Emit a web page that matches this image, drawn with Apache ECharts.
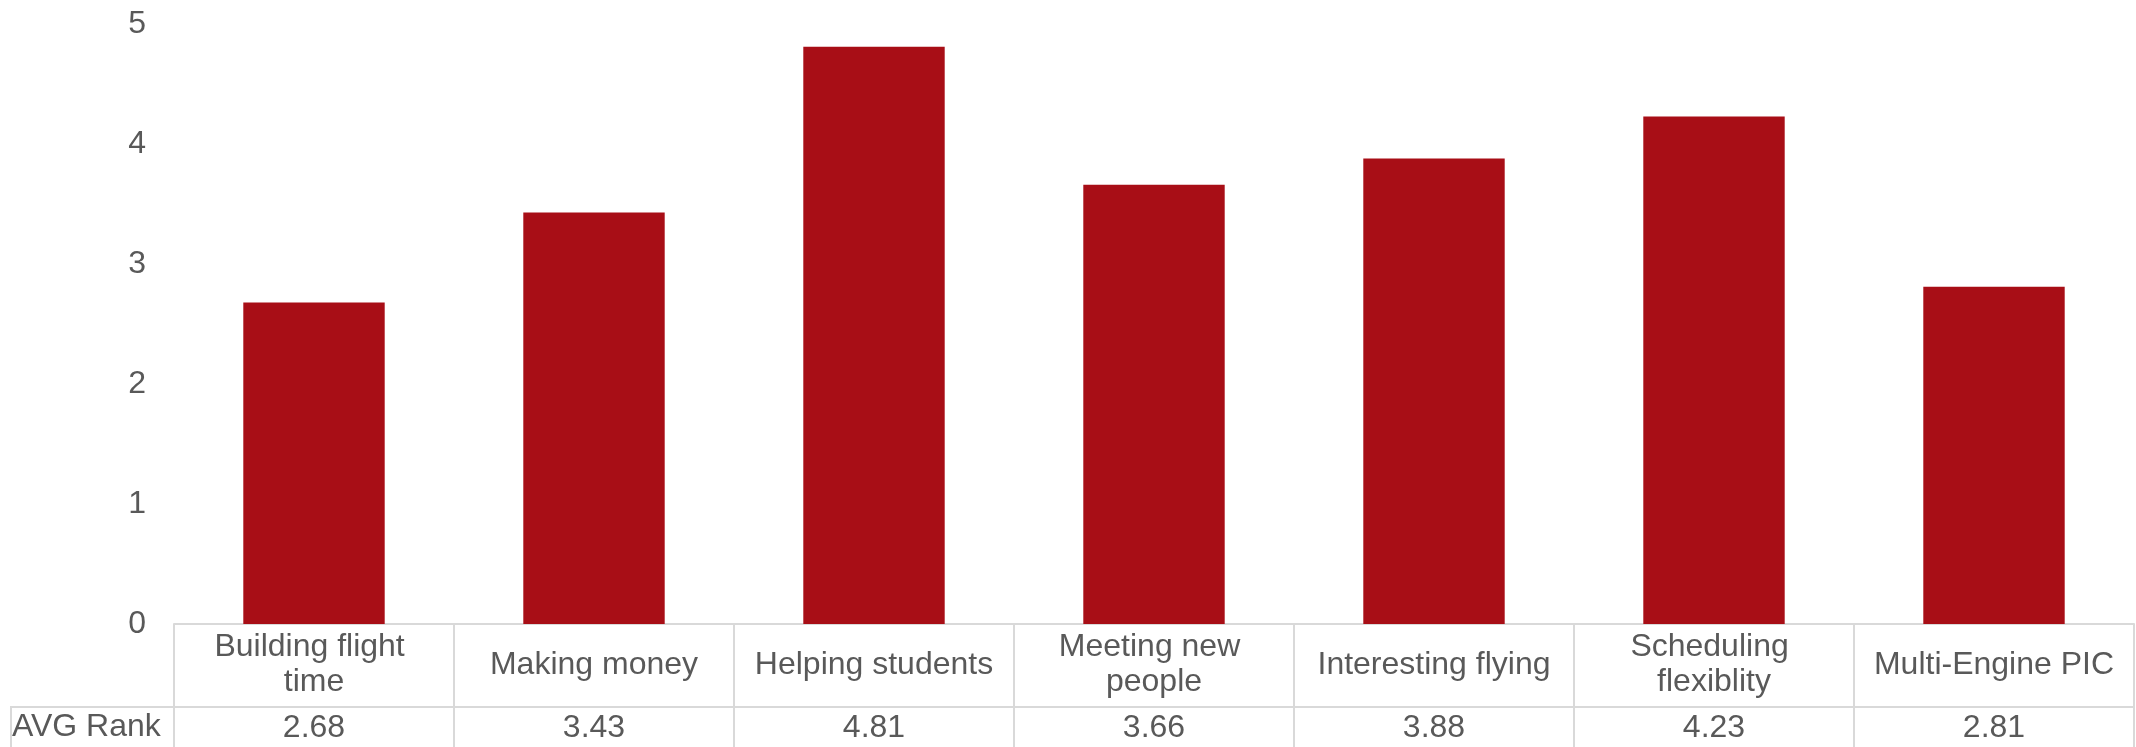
<!DOCTYPE html>
<html>
<head>
<meta charset="utf-8">
<title>AVG Rank</title>
<script src="https://cdn.jsdelivr.net/npm/echarts@6/dist/echarts.min.js"></script>
<style>
  html, body { margin: 0; padding: 0; background: #ffffff; }
  #chart { width: 2136px; height: 747px; }
</style>
</head>
<body>
<div id="chart"></div>
<script>
// Reasons ranked by instructors, with their average rank
const categories = [
  'Building flight time',
  'Making money',
  'Helping students',
  'Meeting new people',
  'Interesting flying',
  'Scheduling flexiblity',
  'Multi-Engine PIC'
];
const avgRank = [2.68, 3.43, 4.81, 3.66, 3.88, 4.23, 2.81];
const rowLabel = 'AVG Rank';

// Value axis ticks
const yMin = 0;
const yMax = 5;
const yStep = 1;

const textColor = '#595959';
const lineColor = '#d9d9d9';
const barColor = '#a80e16';
const fontFamily = "'Liberation Sans', Arial, sans-serif";
const fontSize = 32;

const chart = echarts.init(document.getElementById('chart'), null, { renderer: 'canvas' });

const option = {
  backgroundColor: '#ffffff',
  animation: false,
  grid: { left: 174, right: 2, top: 24, bottom: 123, containLabel: false },
  xAxis: [
    {
      // category row of the data table
      type: 'category',
      data: categories,
      position: 'bottom',
      axisLine: { show: true, lineStyle: { color: lineColor, width: 2 } },
      axisTick: { show: true, interval: 0, length: 123, lineStyle: { color: lineColor, width: 2 } },
      axisLabel: {
        interval: 0,
        color: textColor,
        fontFamily: fontFamily,
        fontSize: fontSize,
        lineHeight: 35,
        width: 250,
        overflow: 'break',
        align: 'center',
        verticalAlign: 'middle',
        margin: 41
      }
    },
    {
      // value row of the data table
      type: 'category',
      data: categories,
      position: 'bottom',
      offset: 83,
      axisLine: { show: true, lineStyle: { color: lineColor, width: 2 } },
      axisTick: { show: false },
      axisLabel: {
        interval: 0,
        color: textColor,
        fontFamily: fontFamily,
        fontSize: fontSize,
        verticalAlign: 'middle',
        margin: 21,
        formatter: function (value, index) { return avgRank[index].toFixed(2); }
      }
    }
  ],
  yAxis: {
    type: 'value',
    min: yMin,
    max: yMax,
    interval: yStep,
    axisLine: { show: false },
    axisTick: { show: false },
    splitLine: { show: false },
    axisLabel: {
      color: textColor,
      fontFamily: fontFamily,
      fontSize: fontSize,
      margin: 28
    }
  },
  series: [
    {
      type: 'bar',
      name: rowLabel,
      xAxisIndex: 0,
      data: avgRank,
      barWidth: '50.5%',
      itemStyle: { color: barColor }
    }
  ],
  graphic: [
    // left part of the table border around the row header
    {
      type: 'polyline',
      shape: { points: [[174, 707], [11, 707], [11, 747]] },
      style: { stroke: lineColor, lineWidth: 2, fill: null },
      silent: true
    },
    // row header of the value row
    {
      type: 'text',
      left: 12,
      top: 708,
      style: {
        text: rowLabel,
        fill: textColor,
        font: fontSize + 'px ' + fontFamily,
        lineHeight: 38,
        verticalAlign: 'top'
      },
      silent: true
    }
  ]
};

chart.setOption(option);
</script>
</body>
</html>
